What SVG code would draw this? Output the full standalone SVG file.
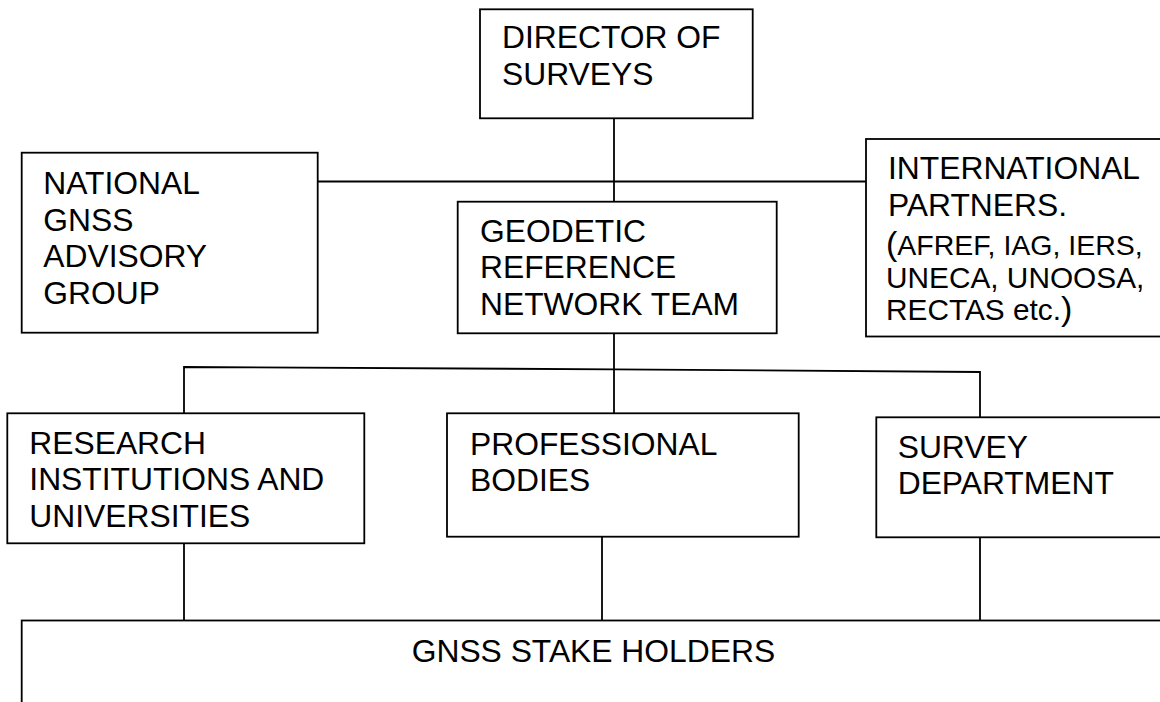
<svg xmlns="http://www.w3.org/2000/svg" width="1160" height="702" viewBox="0 0 1160 702">
  <style>
    .box { fill: #ffffff; stroke: #000000; stroke-width: 1.8; }
    .link { fill: none; stroke: #000000; stroke-width: 1.8; }
    .label { font-family: "Liberation Sans", Arial, sans-serif; font-size: 31.8px; fill: #000000; }
    .small { font-size: 28.5px; }
    .note { font-size: 29.8px; }
    .paren { font-size: 34px; }
  </style>
  <rect width="1160" height="702" fill="#ffffff"/>

  <!-- connectors -->
  <g id="connectors">
    <line class="link" x1="614" y1="118" x2="614" y2="202"/>
    <line class="link" x1="318" y1="181.5" x2="866" y2="181.5"/>
    <line class="link" x1="614" y1="333" x2="614" y2="413"/>
    <polyline class="link" points="184,413 184,367 614,369.3 980,372 980,417.3"/>
    <line class="link" x1="184" y1="543.3" x2="184" y2="620.5"/>
    <line class="link" x1="602" y1="537" x2="602" y2="620.5"/>
    <line class="link" x1="980" y1="537.3" x2="980" y2="620.5"/>
  </g>

  <g id="director">
    <rect class="box" x="480" y="9.3" width="272.7" height="109"/>
    <text class="label" x="502" y="48">DIRECTOR OF</text>
    <text class="label" x="502" y="85">SURVEYS</text>
  </g>

  <g id="advisory">
    <rect class="box" x="21.7" y="152.7" width="296" height="180"/>
    <text class="label" x="43.3" y="194">NATIONAL</text>
    <text class="label" x="43.3" y="230.5">GNSS</text>
    <text class="label" x="43.3" y="267">ADVISORY</text>
    <text class="label" x="43.3" y="303.5">GROUP</text>
  </g>

  <g id="geodetic">
    <rect class="box" x="457.7" y="201.7" width="319" height="131.6"/>
    <text class="label" x="480" y="241.7">GEODETIC</text>
    <text class="label" x="480" y="278.3">REFERENCE</text>
    <text class="label" x="480" y="315">NETWORK TEAM</text>
  </g>

  <g id="international">
    <rect class="box" x="866" y="139" width="310" height="197.5"/>
    <text class="label" x="888" y="179">INTERNATIONAL</text>
    <text class="label" x="888" y="215.5">PARTNERS.</text>
    <text class="label" x="886" y="255"><tspan class="paren">(</tspan><tspan class="small">AFREF, IAG, IERS,</tspan></text>
    <text class="label note" x="886" y="287.5">UNECA, UNOOSA,</text>
    <text class="label" x="886" y="320"><tspan class="note">RECTAS etc.</tspan><tspan class="paren">)</tspan></text>
  </g>

  <g id="research">
    <rect class="box" x="7.3" y="413.3" width="357" height="130"/>
    <text class="label" x="29.3" y="454">RESEARCH</text>
    <text class="label" x="29.3" y="490.3">INSTITUTIONS AND</text>
    <text class="label" x="29.3" y="526.7">UNIVERSITIES</text>
  </g>

  <g id="professional">
    <rect class="box" x="447" y="413.3" width="351.7" height="123.4"/>
    <text class="label" x="470" y="454.5">PROFESSIONAL</text>
    <text class="label" x="470" y="491">BODIES</text>
  </g>

  <g id="survey-department">
    <rect class="box" x="876.3" y="417.3" width="300" height="120"/>
    <text class="label" x="897.7" y="458.3">SURVEY</text>
    <text class="label" x="897.7" y="494.3">DEPARTMENT</text>
  </g>

  <g id="stakeholders">
    <rect class="box" x="21.7" y="620.5" width="1160" height="100"/>
    <text class="label" x="411.7" y="661.7">GNSS STAKE HOLDERS</text>
  </g>
</svg>
